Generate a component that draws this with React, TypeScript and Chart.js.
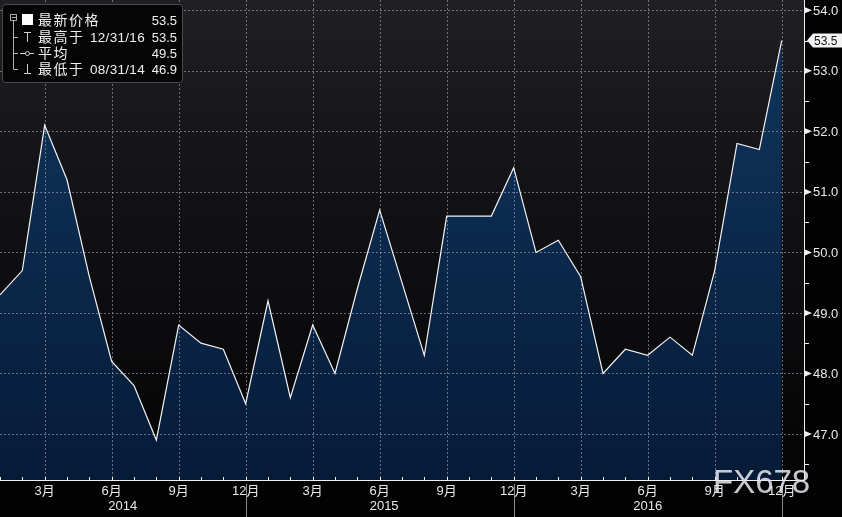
import React, { useEffect, useRef } from 'react';
import { Chart, registerables } from 'chart.js';

Chart.register(...registerables);

// ---- data ----
const months = [
  '2014-01', '2014-02', '2014-03', '2014-04', '2014-05', '2014-06', '2014-07', '2014-08', '2014-09', '2014-10', '2014-11', '2014-12',
  '2015-01', '2015-02', '2015-03', '2015-04', '2015-05', '2015-06', '2015-07', '2015-08', '2015-09', '2015-10', '2015-11', '2015-12',
  '2016-01', '2016-02', '2016-03', '2016-04', '2016-05', '2016-06', '2016-07', '2016-08', '2016-09', '2016-10', '2016-11', '2016-12',
];
const values = [
  49.3, 49.7, 52.1, 51.2, 49.6, 48.2, 47.8, 46.9, 48.8, 48.5, 48.4, 47.5,
  49.2, 47.6, 48.8, 48.0, 49.4, 50.7, 49.5, 48.3, 50.6, 50.6, 50.6, 51.4,
  50.0, 50.2, 49.6, 48.0, 48.4, 48.3, 48.6, 48.3, 49.7, 51.8, 51.7, 53.5,
];
const yTickValues = [47, 48, 49, 50, 51, 52, 53, 54];
const yMinorValues = [46.5, 47.5, 48.5, 49.5, 50.5, 51.5, 52.5, 53.5];
const monthLabelNames = ['3月', '6月', '9月', '12月'];
const yearLabels = ['2014', '2015', '2016'];
const yearLabelPos = [5.5, 17.2, 29];
const legendNames = ['最新价格', '最高于', '平均', '最低于'];
const legendDates = ['', '12/31/16', '', '08/31/14'];
const legendValues = ['53.5', '53.5', '49.5', '46.9'];
const lastValueTag = '53.5';
const watermark = 'FX678';

const FONT = '"Liberation Sans", "Noto Sans CJK SC", sans-serif';

const decoPlugin = {
  id: 'deco',
  beforeDraw(chart: any) {
    const { ctx, chartArea: a } = chart;
    ctx.save();
    ctx.fillStyle = '#020203';
    ctx.fillRect(0, 0, chart.width, chart.height);
    const g = ctx.createLinearGradient(0, a.top, 0, a.bottom);
    g.addColorStop(0, '#202024');
    g.addColorStop(0.45, '#111114');
    g.addColorStop(1, '#040405');
    ctx.fillStyle = g;
    ctx.fillRect(a.left, a.top, a.right - a.left, a.bottom - a.top);
    ctx.restore();
  },
  beforeDatasetDraw(chart: any, args: any) {
    if (args.index !== 0) return;
    const { ctx, chartArea: a, scales } = chart;
    const x = scales.x, y = scales.y;
    ctx.save();
    ctx.beginPath();
    ctx.rect(a.left, a.top, a.right - a.left, a.bottom - a.top);
    ctx.clip();
    ctx.strokeStyle = 'rgba(175,180,190,0.55)';
    ctx.lineWidth = 1;
    ctx.setLineDash([2, 2]);
    yTickValues.forEach((v) => {
      const py = Math.round(y.getPixelForValue(v)) + 0.5;
      ctx.beginPath();
      ctx.moveTo(a.left, py);
      ctx.lineTo(a.right, py);
      ctx.stroke();
    });
    months.forEach((m, i) => {
      if (Number(m.slice(5)) % 3 !== 0) return;
      const px = Math.round(x.getPixelForValue(i)) + 0.5;
      ctx.beginPath();
      ctx.moveTo(px, a.top);
      ctx.lineTo(px, a.bottom);
      ctx.stroke();
    });
    ctx.restore();
  },
  afterDraw(chart: any) {
    const { ctx, chartArea: a, scales } = chart;
    const x = scales.x, y = scales.y;
    ctx.save();
    // axis lines
    ctx.strokeStyle = '#f0f0f0';
    ctx.lineWidth = 1;
    ctx.beginPath();
    ctx.moveTo(a.right + 0.5, a.top);
    ctx.lineTo(a.right + 0.5, a.bottom + 1);
    ctx.moveTo(a.left, a.bottom + 0.5);
    ctx.lineTo(a.right + 1, a.bottom + 0.5);
    ctx.stroke();

    // y minor ticks
    yMinorValues.forEach((v) => {
      const py = Math.round(y.getPixelForValue(v)) + 0.5;
      if (py > a.bottom) return;
      ctx.beginPath();
      ctx.moveTo(a.right, py);
      ctx.lineTo(a.right + 5, py);
      ctx.stroke();
    });
    // y major ticks + labels
    ctx.fillStyle = '#f0f0f0';
    ctx.font = `13px ${FONT}`;
    ctx.textBaseline = 'middle';
    ctx.textAlign = 'left';
    yTickValues.forEach((v) => {
      const py = y.getPixelForValue(v);
      ctx.beginPath();
      ctx.moveTo(a.right + 1, py - 3);
      ctx.lineTo(a.right + 8, py);
      ctx.lineTo(a.right + 1, py + 3);
      ctx.closePath();
      ctx.fill();
      ctx.fillStyle = '#e8e8e8';
      ctx.fillText(v.toFixed(1), a.right + 9, py + 1);
      ctx.fillStyle = '#f0f0f0';
    });

    // last value tag
    const lastIdx = values.length - 1;
    const ty = y.getPixelForValue(values[lastIdx]);
    ctx.fillStyle = '#f4f4f4';
    ctx.beginPath();
    ctx.moveTo(a.right + 3, ty);
    ctx.lineTo(a.right + 9, ty - 7);
    ctx.lineTo(chart.width, ty - 7);
    ctx.lineTo(chart.width, ty + 7);
    ctx.lineTo(a.right + 9, ty + 7);
    ctx.closePath();
    ctx.fill();
    ctx.fillStyle = '#111';
    ctx.font = `12px ${FONT}`;
    ctx.fillText(lastValueTag, a.right + 10, ty + 1);

    // x month ticks (upward)
    ctx.strokeStyle = '#f0f0f0';
    for (let i = 0; i <= months.length; i++) {
      const px = Math.round(x.getPixelForValue(i)) + 0.5;
      ctx.beginPath();
      ctx.moveTo(px, a.bottom - 3);
      ctx.lineTo(px, a.bottom + 1);
      ctx.stroke();
    }
    // month labels + year separators
    ctx.font = `13px ${FONT}`;
    ctx.textAlign = 'center';
    ctx.textBaseline = 'middle';
    months.forEach((m, i) => {
      const mo = Number(m.slice(5));
      if (mo % 3 !== 0) return;
      const px = x.getPixelForValue(i);
      ctx.fillStyle = '#e8e8e8';
      ctx.fillText(monthLabelNames[mo / 3 - 1], px, a.bottom + 11);
      if (mo === 12) {
        ctx.strokeStyle = '#8a8a8a';
        ctx.beginPath();
        ctx.moveTo(Math.round(px) + 0.5, a.bottom + 4);
        ctx.lineTo(Math.round(px) + 0.5, chart.height);
        ctx.stroke();
      }
    });
    yearLabels.forEach((yr, k) => {
      ctx.fillStyle = '#e8e8e8';
      ctx.fillText(yr, x.getPixelForValue(yearLabelPos[k]), a.bottom + 26);
    });

    // legend box
    ctx.fillStyle = '#050505';
    ctx.strokeStyle = '#4a4a4a';
    ctx.lineWidth = 1;
    ctx.beginPath();
    (ctx as any).roundRect(2.5, 4.5, 180, 78, 3);
    ctx.fill();
    ctx.stroke();
    const rowY = [20, 37, 53, 69];
    // tree
    ctx.strokeStyle = '#b0b0b0';
    ctx.beginPath();
    ctx.rect(10.5, 14.5, 6, 6);
    ctx.moveTo(12, 17.5);
    ctx.lineTo(16, 17.5);
    ctx.moveTo(13.5, 21);
    ctx.lineTo(13.5, rowY[3] + 0.5);
    [1, 2, 3].forEach((r) => {
      ctx.moveTo(13.5, rowY[r] + 0.5);
      ctx.lineTo(18, rowY[r] + 0.5);
    });
    ctx.stroke();
    ctx.fillStyle = '#ffffff';
    ctx.fillRect(22, 14, 11, 11);
    ctx.strokeStyle = '#d0d0d0';
    ctx.beginPath();
    // high marker
    ctx.moveTo(24, 32.5); ctx.lineTo(31, 32.5);
    ctx.moveTo(27.5, 32.5); ctx.lineTo(27.5, 42);
    // average marker
    ctx.moveTo(20, 53.5); ctx.lineTo(25.5, 53.5);
    ctx.moveTo(29.5, 53.5); ctx.lineTo(34, 53.5);
    // low marker
    ctx.moveTo(27.5, 64); ctx.lineTo(27.5, 73.5);
    ctx.moveTo(24, 73.5); ctx.lineTo(31, 73.5);
    ctx.stroke();
    ctx.beginPath();
    ctx.arc(27.5, 53.5, 2, 0, Math.PI * 2);
    ctx.stroke();

    ctx.fillStyle = '#f0f0f0';
    ctx.textBaseline = 'middle';
    legendNames.forEach((n, r) => {
      ctx.textAlign = 'left';
      ctx.font = `14px ${FONT}`;
      (ctx as any).letterSpacing = '1.5px';
      ctx.fillText(n, 38, rowY[r] + 1);
      (ctx as any).letterSpacing = '0.3px';
      ctx.font = `13.5px ${FONT}`;
      if (legendDates[r]) ctx.fillText(legendDates[r], 90, rowY[r] + 1);
      (ctx as any).letterSpacing = '0px';
      ctx.textAlign = 'right';
      ctx.font = `13px ${FONT}`;
      ctx.fillText(legendValues[r], 177, rowY[r] + 1);
    });

    // watermark
    ctx.font = `33px ${FONT}`;
    ctx.textAlign = 'left';
    ctx.textBaseline = 'alphabetic';
    ctx.fillStyle = 'rgba(225,228,235,0.88)';
    ctx.fillText(watermark, 713, 493);
    ctx.restore();
  },
};

export default function App() {
  const ref = useRef<HTMLCanvasElement>(null);
  useEffect(() => {
    if (!ref.current) return;
    const points = values.map((v, i) => ({ x: i, y: v }));
    const chart = new Chart(ref.current, {
      type: 'line',
      data: {
        datasets: [
          {
            data: points,
            borderColor: '#f2f2f2',
            borderWidth: 1.2,
            fill: false,
            pointRadius: 0,
            tension: 0,
            order: 0,
          },
          {
            data: points,
            borderWidth: 0,
            borderColor: 'rgba(0,0,0,0)',
            fill: 'start',
            pointRadius: 0,
            tension: 0,
            order: 1,
            backgroundColor: (c: any) => {
              const area = c.chart.chartArea;
              if (!area) return '#0b2a4d';
              const g = c.chart.ctx.createLinearGradient(0, area.top, 0, area.bottom);
              g.addColorStop(0, '#11375f');
              g.addColorStop(1, '#061b38');
              return g;
            },
          },
        ],
      },
      options: {
        animation: false,
        responsive: false,
        maintainAspectRatio: false,
        layout: { padding: 0 },
        plugins: { legend: { display: false }, tooltip: { enabled: false } },
        scales: {
          x: {
            type: 'linear',
            min: 0,
            max: months.length,
            grid: { display: false },
            border: { display: false },
            ticks: { display: false },
            afterFit: (s: any) => { s.height = 37; },
          },
          y: {
            position: 'right',
            min: 46.24,
            max: 54.17,
            grid: { display: false },
            border: { display: false },
            ticks: { display: false },
            afterFit: (s: any) => { s.width = 38; },
          },
        },
      },
      plugins: [decoPlugin],
    } as any);
    return () => chart.destroy();
  }, []);
  return (
    <div style={{ position: 'fixed', left: 0, top: 0, width: 842, height: 517, background: '#000' }}>
      <canvas ref={ref} width={842} height={517} style={{ display: 'block' }} />
    </div>
  );
}
